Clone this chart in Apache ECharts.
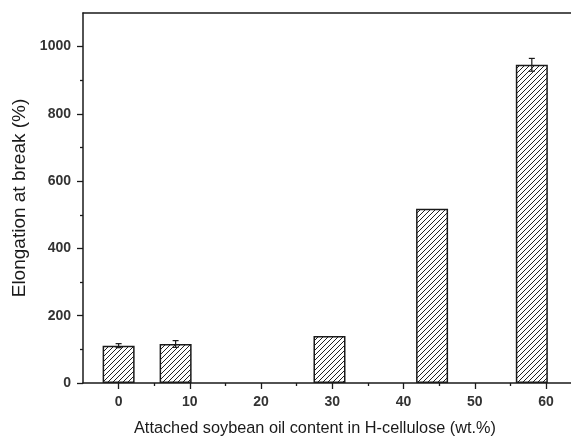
<!DOCTYPE html>
<html>
<head>
<meta charset="utf-8">
<script src="https://cdn.jsdelivr.net/npm/echarts@6/dist/echarts.min.js"></script>
<style>
  html, body { margin: 0; padding: 0; background: #fff; }
  #chart { width: 571px; height: 437px; }
</style>
</head>
<body>
<div id="chart"></div>
<script>
// Soybean oil content (wt.%) at which each sample was measured
const oilContent = [0, 8, 29.6, 44, 58];
// Elongation at break (%) and its standard deviation
const elongation = [111, 116, 140, 518, 946];
const elongationErr = [6, 10, 0, 0, 19];

// Tick positions
const xMajorTicks = [0, 10, 20, 30, 40, 50, 60];
const xMinorTicks = [5, 15, 25, 35, 45, 55];
const yMajorTicks = [0, 200, 400, 600, 800, 1000];
const yMinorTicks = [100, 300, 500, 700, 900];

// Diagonal hatch fill for the bars
function hatchPattern() {
  const s = 5;
  const c = document.createElement('canvas');
  c.width = s; c.height = s;
  const g = c.getContext('2d');
  g.fillStyle = '#fff';
  g.fillRect(0, 0, s, s);
  g.strokeStyle = '#222';
  g.lineWidth = 1;
  g.beginPath();
  g.moveTo(-1, s + 1); g.lineTo(s + 1, -1);
  g.moveTo(-1, 1); g.lineTo(1, -1);
  g.moveTo(s - 1, s + 1); g.lineTo(s + 1, s - 1);
  g.stroke();
  return c;
}

const ink = '#1a1a1a';
const font = 'Liberation Sans, Arial, sans-serif';
const X_MIN = -5, X_MAX = 63.5, Y_MIN = 0, Y_MAX = 1100;

const chart = echarts.init(document.getElementById('chart'), null, { renderer: 'canvas' });

const tickLabel = { fontFamily: font, fontSize: 14, fontWeight: 'bold', color: '#333', margin: 12 };

const option = {
  animation: false,
  backgroundColor: '#fff',
  grid: { left: 83, top: 13, right: 0, bottom: 54, outerBoundsMode: 'none', containLabel: false },
  xAxis: [
    {
      type: 'value', min: X_MIN, max: X_MAX, position: 'bottom',
      name: 'Attached soybean oil content in H-cellulose (wt.%)',
      nameLocation: 'middle', nameGap: 38,
      nameTextStyle: { fontFamily: font, fontSize: 16.3, color: ink, padding: [0, 24, 0, 0] },
      axisLine: { show: true, onZero: false, lineStyle: { color: ink, width: 1.5 } },
      axisTick: { show: true, customValues: xMajorTicks, length: 6, lineStyle: { color: ink, width: 1.3 } },
      axisLabel: Object.assign({ customValues: xMajorTicks }, tickLabel),
      splitLine: { show: false }
    },
    {
      // minor ticks along the bottom
      type: 'value', min: X_MIN, max: X_MAX, position: 'bottom',
      axisLine: { show: false, onZero: false },
      axisTick: { show: true, customValues: xMinorTicks, length: 3, lineStyle: { color: ink, width: 1.3 } },
      axisLabel: { show: false },
      splitLine: { show: false }
    },
    {
      // top frame line
      type: 'value', min: X_MIN, max: X_MAX, position: 'top',
      axisLine: { show: true, onZero: false, lineStyle: { color: ink, width: 1.5 } },
      axisTick: { show: false },
      axisLabel: { show: false },
      splitLine: { show: false }
    }
  ],
  yAxis: [
    {
      type: 'value', min: Y_MIN, max: Y_MAX, position: 'left',
      name: 'Elongation at break (%)',
      nameLocation: 'middle', nameGap: 45,
      nameTextStyle: { fontFamily: font, fontSize: 19, color: ink },
      axisLine: { show: true, onZero: false, lineStyle: { color: ink, width: 1.5 } },
      axisTick: { show: true, customValues: yMajorTicks, length: 6, lineStyle: { color: ink, width: 1.3 } },
      axisLabel: Object.assign({ customValues: yMajorTicks, formatter: v => String(v) }, tickLabel),
      splitLine: { show: false }
    },
    {
      // minor ticks along the left side
      type: 'value', min: Y_MIN, max: Y_MAX, position: 'left',
      axisLine: { show: false, onZero: false },
      axisTick: { show: true, customValues: yMinorTicks, length: 3, lineStyle: { color: ink, width: 1.3 } },
      axisLabel: { show: false },
      splitLine: { show: false }
    }
  ],
  series: [
    {
      type: 'bar',
      xAxisIndex: 0, yAxisIndex: 0,
      barWidth: 32,
      data: oilContent.map((x, i) => [x, elongation[i]]),
      itemStyle: {
        color: { image: hatchPattern(), repeat: 'repeat' },
        borderColor: ink, borderWidth: 1.5
      },
      z: 2
    },
    {
      type: 'custom',
      xAxisIndex: 0, yAxisIndex: 0,
      data: oilContent.map((x, i) => [x, elongation[i], elongationErr[i]]),
      z: 5,
      renderItem: function (params, api) {
        const x = api.value(0), y = api.value(1), e = api.value(2);
        if (!e) return null;
        const hi = api.coord([x, y + e]);
        const lo = api.coord([x, y - e]);
        const cap = 3;
        const style = { stroke: ink, lineWidth: 1.2 };
        return {
          type: 'group',
          children: [
            { type: 'line', shape: { x1: hi[0], y1: hi[1], x2: lo[0], y2: lo[1] }, style },
            { type: 'line', shape: { x1: hi[0] - cap, y1: hi[1], x2: hi[0] + cap, y2: hi[1] }, style },
            { type: 'line', shape: { x1: lo[0] - cap, y1: lo[1], x2: lo[0] + cap, y2: lo[1] }, style }
          ]
        };
      }
    }
  ]
};

chart.setOption(option);
</script>
</body>
</html>
